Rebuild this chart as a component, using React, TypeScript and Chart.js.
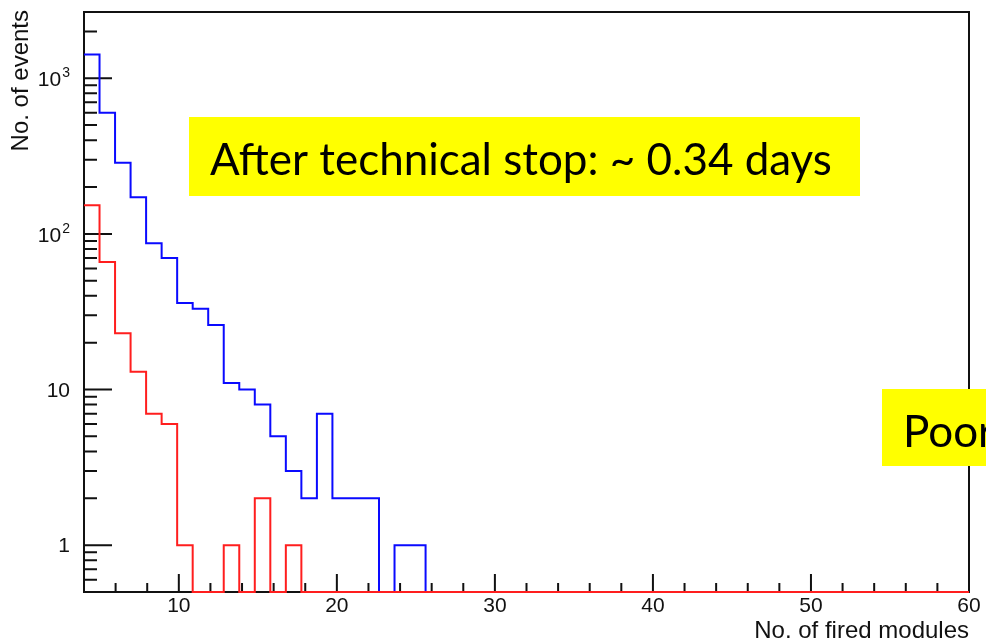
import React, { useEffect, useRef } from "react";
import { Chart, registerables } from "chart.js";

Chart.register(...registerables);

// Histogram binning (57 equal bins between 4 and 60)
const X_MIN = 4;
const X_MAX = 60;
const N_BINS = 57;
const Y_MIN = 0.5;
const Y_MAX = 2665;

// Bin contents
const blueCounts = [
  1422, 601, 286, 172, 87, 70, 36, 33, 26, 11, 10, 8, 5, 3, 2, 7, 2, 2, 2, 0,
  1, 1, 0, 0, 0, 0, 0, 0, 0, 0, 0, 0, 0, 0, 0, 0, 0, 0, 0, 0,
  0, 0, 0, 0, 0, 0, 0, 0, 0, 0, 0, 0, 0, 0, 0, 0, 0,
];
const redCounts = [
  153, 66, 23, 13, 7, 6, 1, 0, 0, 1, 0, 2, 0, 1, 0, 0, 0, 0, 0, 0,
  0, 0, 0, 0, 0, 0, 0, 0, 0, 0, 0, 0, 0, 0, 0, 0, 0, 0, 0, 0,
  0, 0, 0, 0, 0, 0, 0, 0, 0, 0, 0, 0, 0, 0, 0, 0, 0,
];

// Axis ticks and labels
const xMajorTicks = [10, 20, 30, 40, 50, 60];
const xMajorLabels = ["10", "20", "30", "40", "50", "60"];
const xMinorTicks = [
  6, 8, 12, 14, 16, 18, 22, 24, 26, 28, 32, 34, 36, 38, 42, 44, 46, 48, 52, 54,
  56, 58,
];
const yMajorTicks = [1, 10, 100, 1000];
const yMajorBase = ["1", "10", "10", "10"];
const yMajorExp = ["", "", "2", "3"];
const yMinorTicks = [
  0.6, 0.7, 0.8, 0.9, 2, 3, 4, 5, 6, 7, 8, 9, 20, 30, 40, 50, 60, 70, 80, 90,
  200, 300, 400, 500, 600, 700, 800, 900, 2000,
];

const xTitle = "No. of fired modules";
const yTitle = "No. of events";
const note1 = "After technical stop: ~ 0.34 days";
const note2 = "Poor";

const BLUE = "#0a0aff";
const RED = "#ff1e1e";
const AXIS = "#111111";
const SANS = "'Liberation Sans', Arial, sans-serif";
const NOTE_FONT = "Lato, 'Open Sans', sans-serif";

function histPoints(counts: number[]) {
  const w = (X_MAX - X_MIN) / N_BINS;
  const pts = counts.map((c, i) => ({ x: X_MIN + i * w, y: c > 0 ? c : Y_MIN }));
  const last = counts[counts.length - 1];
  pts.push({ x: X_MAX, y: last > 0 ? last : Y_MIN });
  return pts;
}

const axesPlugin = {
  id: "rootAxes",
  beforeDatasetsDraw(chart: any) {
    const { ctx, chartArea } = chart;
    const xs = chart.scales.x;
    const ys = chart.scales.y;
    const { left, right, top, bottom } = chartArea;
    ctx.save();
    ctx.strokeStyle = AXIS;
    ctx.lineWidth = 2;
    ctx.strokeRect(left, top, right - left, bottom - top);
    ctx.lineWidth = 2;
    ctx.beginPath();
    xMajorTicks.forEach((v) => {
      const p = xs.getPixelForValue(v);
      ctx.moveTo(p, bottom);
      ctx.lineTo(p, bottom - 18);
    });
    xMinorTicks.forEach((v) => {
      const p = xs.getPixelForValue(v);
      ctx.moveTo(p, bottom);
      ctx.lineTo(p, bottom - 9);
    });
    yMajorTicks.forEach((v) => {
      const p = ys.getPixelForValue(v);
      ctx.moveTo(left, p);
      ctx.lineTo(left + 28, p);
    });
    yMinorTicks.forEach((v) => {
      const p = ys.getPixelForValue(v);
      ctx.moveTo(left, p);
      ctx.lineTo(left + 13, p);
    });
    ctx.stroke();

    // tick labels
    ctx.fillStyle = AXIS;
    ctx.font = `21px ${SANS}`;
    ctx.textAlign = "center";
    ctx.textBaseline = "alphabetic";
    xMajorTicks.forEach((v, i) => {
      const p = xs.getPixelForValue(v);
      ctx.fillText(xMajorLabels[i], p, 612);
    });
    const labelRight = 70;
    yMajorTicks.forEach((v, i) => {
      const p = ys.getPixelForValue(v);
      ctx.textAlign = "right";
      if (yMajorExp[i]) {
        ctx.font = `14px ${SANS}`;
        const sw = ctx.measureText(yMajorExp[i]).width;
        ctx.fillText(yMajorExp[i], labelRight, p - 1);
        ctx.font = `21px ${SANS}`;
        ctx.fillText(yMajorBase[i], labelRight - sw - 1, p + 8);
      } else {
        ctx.font = `21px ${SANS}`;
        ctx.fillText(yMajorBase[i], labelRight, p + 7);
      }
    });

    // axis titles
    ctx.font = `24px ${SANS}`;
    ctx.textAlign = "right";
    ctx.textBaseline = "alphabetic";
    ctx.fillText(xTitle, right, 638);
    ctx.save();
    ctx.translate(21, top - 2);
    ctx.rotate(-Math.PI / 2);
    ctx.textAlign = "right";
    ctx.textBaseline = "middle";
    ctx.fillText(yTitle, 0, 0);
    ctx.restore();
    ctx.restore();
  },
  afterDraw(chart: any) {
    const { ctx } = chart;
    ctx.save();
    ctx.font = `40px ${NOTE_FONT}`;
    const w40 = ctx.measureText(note1).width;
    const size = (40 * 622) / w40;
    ctx.fillStyle = "#ffff00";
    ctx.fillRect(189, 117, 671, 79);
    ctx.fillRect(882, 389, 120, 77);
    ctx.fillStyle = "#000000";
    ctx.font = `${size}px ${NOTE_FONT}`;
    ctx.textAlign = "left";
    ctx.textBaseline = "alphabetic";
    ctx.fillText(note1, 210, 175);
    ctx.fillText(note2, 903, 447);
    ctx.restore();
  },
};

export default function App() {
  const canvasRef = useRef<HTMLCanvasElement | null>(null);

  useEffect(() => {
    const canvas = canvasRef.current;
    if (!canvas) return;
    const chart = new Chart(canvas, {
      type: "line",
      data: {
        datasets: [
          {
            label: "red",
            data: histPoints(redCounts),
            borderColor: RED,
            borderWidth: 2,
            pointRadius: 0,
            stepped: true,
            fill: false,
            clip: false as any,
          },
          {
            label: "blue",
            data: histPoints(blueCounts),
            borderColor: BLUE,
            borderWidth: 2,
            pointRadius: 0,
            stepped: true,
            fill: false,
            clip: false as any,
          },
        ],
      },
      options: {
        animation: false,
        responsive: false,
        devicePixelRatio: 1,
        layout: { padding: { left: 84, right: 17, top: 12, bottom: 50 } },
        plugins: {
          legend: { display: false },
          tooltip: { enabled: false },
          title: { display: false },
        },
        scales: {
          x: { type: "linear", min: X_MIN, max: X_MAX, display: false },
          y: { type: "logarithmic", min: Y_MIN, max: Y_MAX, display: false },
        },
      },
      plugins: [axesPlugin],
    });
    return () => chart.destroy();
  }, []);

  return (
    <div
      style={{
        position: "absolute",
        left: 0,
        top: 0,
        width: 986,
        height: 642,
        overflow: "hidden",
        background: "#ffffff",
      }}
    >
      <canvas ref={canvasRef} width={986} height={642} />
    </div>
  );
}
